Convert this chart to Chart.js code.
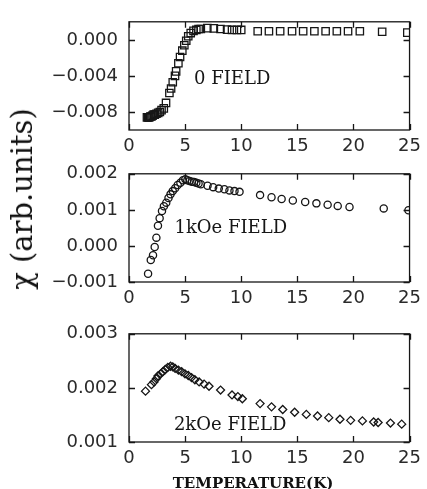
<!DOCTYPE html>
<html>
<head>
<meta charset="utf-8">
<script src="https://cdn.jsdelivr.net/npm/chart.js@4"></script>
<style>
  body { margin: 0; background: #fff; }
  #wrap { position: relative; width: 427px; height: 489px; overflow: hidden; background: #fff; }
  #wrap canvas { position: absolute; left: 0; }
  #ytitle {
    position: absolute; left: 22px; top: 199px;
    transform: translate(-50%, -50%) rotate(-90deg);
    font: 29px "DejaVu Serif"; color: #111; white-space: nowrap;
  }
  #xtitle {
    position: absolute; left: 253px; top: 483px;
    transform: translate(-50%, -50%);
    font: bold 15px "DejaVu Serif"; color: #111; white-space: nowrap;
  }
</style>
</head>
<body>
<div id="wrap">
  <canvas id="c0" width="427" height="160" style="top:0"></canvas>
  <canvas id="c1" width="427" height="160" style="top:152px"></canvas>
  <canvas id="c2" width="427" height="177" style="top:312px"></canvas>
  <div id="ytitle">χ (arb.units)</div>
  <div id="xtitle">TEMPERATURE(K)</div>
</div>
<script>
// ---- susceptibility vs temperature, three applied fields ----
const xTicks = [0, 5, 10, 15, 20, 25];

// zero field (squares)
const tZero = [1.6, 1.7, 1.8, 1.9, 2.0, 2.1, 2.2, 2.3, 2.45, 2.6, 2.75, 2.9, 3.1, 3.3,
  3.6, 3.75, 3.9, 4.1, 4.2, 4.4, 4.55, 4.75, 4.93, 5.1, 5.28, 5.5, 5.75, 6.0, 6.2, 6.4,
  6.98, 7.56, 8.15, 8.74, 9.18, 9.62, 10.0,
  11.47, 12.47, 13.47, 14.53, 15.52, 16.52, 17.52, 18.52, 19.52, 20.57, 22.56, 24.8];
const chiZero = [-0.0086, -0.0086, -0.0086, -0.0085, -0.0085, -0.0084, -0.0083, -0.0083, -0.0082, -0.0081, -0.0080, -0.0078, -0.0076, -0.0070,
  -0.0059, -0.0054, -0.0047, -0.0040, -0.0035, -0.0026, -0.0019, -0.0012, -0.0006, -0.0001, 0.0004, 0.00075, 0.0010, 0.0011, 0.0012, 0.0012,
  0.0013, 0.00127, 0.0012, 0.00113, 0.0011, 0.0011, 0.0011,
  0.00095, 0.00095, 0.00095, 0.00095, 0.00095, 0.00095, 0.00095, 0.00095, 0.00095, 0.00095, 0.0009, 0.0008];
const yTicksZero = [-0.008, -0.004, 0.000];

// 1 kOe (circles)
const tOne = [1.7, 1.94, 2.14, 2.29, 2.44, 2.58, 2.73, 2.94, 3.11, 3.32, 3.52, 3.7, 3.9, 4.11, 4.34, 4.58, 4.81, 5.02,
  5.2, 5.4, 5.6, 5.8, 6.0, 6.2, 6.4, 7.0, 7.5, 8.0, 8.5, 8.95, 9.4, 9.85,
  11.68, 12.7, 13.6, 14.6, 15.7, 16.7, 17.7, 18.6, 19.65, 22.7, 24.9];
const chiOne = [-0.00077, -0.00039, -0.00026, -0.00003, 0.00023, 0.00056, 0.00077, 0.00097, 0.0011, 0.0012, 0.00133, 0.00143, 0.00152, 0.0016, 0.00169, 0.00175, 0.00182, 0.00185,
  0.00182, 0.0018, 0.00178, 0.00177, 0.00175, 0.00173, 0.00171, 0.00167, 0.00163, 0.00159, 0.00157, 0.00154, 0.00152, 0.0015,
  0.00141, 0.00135, 0.0013, 0.00126, 0.00122, 0.00118, 0.00114, 0.00111, 0.00108, 0.00104, 0.00099];
const yTicksOne = [-0.001, 0.000, 0.001, 0.002];

// 2 kOe (diamonds)
const tTwo = [1.47, 2.0, 2.23, 2.44, 2.58, 2.82, 3.02, 3.23, 3.46, 3.7, 3.9, 4.11, 4.4, 4.69, 4.99, 5.28, 5.57, 5.87,
  6.25, 6.69, 7.13, 8.16, 9.18, 9.7, 10.1, 11.68, 12.7, 13.7, 14.76, 15.8, 16.8, 17.8, 18.8, 19.75, 20.8, 21.8, 22.2, 23.3, 24.3];
const chiTwo = [0.00194, 0.00206, 0.00211, 0.00217, 0.00222, 0.00226, 0.0023, 0.00234, 0.00238, 0.0024, 0.00239, 0.00236, 0.00233, 0.0023, 0.00226, 0.00223, 0.00219, 0.00215,
  0.00211, 0.00207, 0.00203, 0.00196, 0.00187, 0.00184, 0.0018, 0.00171, 0.00165, 0.0016, 0.00155, 0.00151, 0.00148, 0.00145, 0.00142, 0.0014, 0.00139, 0.00137, 0.00136, 0.00135, 0.00133];
const yTicksTwo = [0.001, 0.002, 0.003];

const INK = '#161616';

// box around the plot, inward tick marks and the field label
const framePlugin = {
  id: 'frame',
  afterDraw(chart, args, opts) {
    const { ctx, chartArea: a, scales: { x, y } } = chart;
    ctx.save();
    ctx.strokeStyle = INK;
    ctx.lineWidth = 1.3;
    ctx.strokeRect(a.left, a.top, a.right - a.left, a.bottom - a.top);
    ctx.beginPath();
    x.ticks.forEach(t => {
      const px = Math.round(x.getPixelForValue(t.value)) + 0.5;
      ctx.moveTo(px, a.bottom); ctx.lineTo(px, a.bottom - 6);
      ctx.moveTo(px, a.top); ctx.lineTo(px, a.top + 6);
    });
    y.ticks.forEach(t => {
      const py = Math.round(y.getPixelForValue(t.value)) + 0.5;
      ctx.moveTo(a.left, py); ctx.lineTo(a.left + 6, py);
      ctx.moveTo(a.right, py); ctx.lineTo(a.right - 6, py);
    });
    ctx.stroke();
    if (opts.text) {
      ctx.fillStyle = INK;
      ctx.font = '18px "DejaVu Serif"';
      ctx.textBaseline = 'middle';
      ctx.textAlign = 'left';
      ctx.fillText(opts.text, x.getPixelForValue(opts.x), y.getPixelForValue(opts.y));
    }
    ctx.restore();
  }
};

function fmtChi(v) {
  if (Math.abs(v) < 1e-9) return '0.000';
  return (v < 0 ? '\u2212' : '') + Math.abs(v).toFixed(3);
}

function makePanel(id, xs, ys, style, radius, yMin, yMax, yTicks, label, xAxisH) {
  const pts = xs.map((t, i) => ({ x: t, y: ys[i] }));
  return new Chart(document.getElementById(id), {
    type: 'scatter',
    data: {
      datasets: [{
        data: pts,
        pointStyle: style,
        pointRadius: radius,
        pointHoverRadius: radius,
        pointBorderWidth: 1.3,
        borderColor: INK,
        backgroundColor: 'rgba(255,255,255,0)'
      }]
    },
    options: {
      responsive: false,
      animation: false,
      devicePixelRatio: 1,
      layout: { padding: { top: 13, right: 14, left: 0, bottom: 0 } },
      plugins: {
        legend: { display: false },
        tooltip: { enabled: false },
        frame: label
      },
      scales: {
        x: {
          type: 'linear',
          min: 0, max: 25,
          grid: { display: false, drawTicks: false },
          border: { display: false },
          afterFit: s => { s.height = xAxisH; },
          afterBuildTicks: s => { s.ticks = xTicks.map(v => ({ value: v })); },
          ticks: {
            padding: 6,
            color: '#2a2a2a',
            font: { family: 'DejaVu Sans', size: 18 },
            callback: v => String(v)
          }
        },
        y: {
          type: 'linear',
          min: yMin, max: yMax,
          grid: { display: false, drawTicks: false },
          border: { display: false },
          afterFit: s => { s.width = 129; },
          afterBuildTicks: s => { s.ticks = yTicks.map(v => ({ value: v })); },
          ticks: {
            padding: 11,
            color: '#2a2a2a',
            font: { family: 'DejaVu Sans', size: 18 },
            callback: v => fmtChi(v)
          }
        }
      }
    },
    plugins: [framePlugin]
  });
}

makePanel('c0', tZero, chiZero, 'rect', 5.2, -0.010, 0.002, yTicksZero,
  { text: '0 FIELD', x: 5.8, y: -0.0044 }, 30);
makePanel('c1', tOne, chiOne, 'circle', 3.6, -0.001, 0.002, yTicksOne,
  { text: '1kOe FIELD', x: 4.05, y: 0.00049 }, 30);
makePanel('c2', tTwo, chiTwo, 'rectRot', 4, 0.001, 0.003, yTicksTwo,
  { text: '2kOe FIELD', x: 4.0, y: 0.00131 }, 47);
</script>
</body>
</html>
